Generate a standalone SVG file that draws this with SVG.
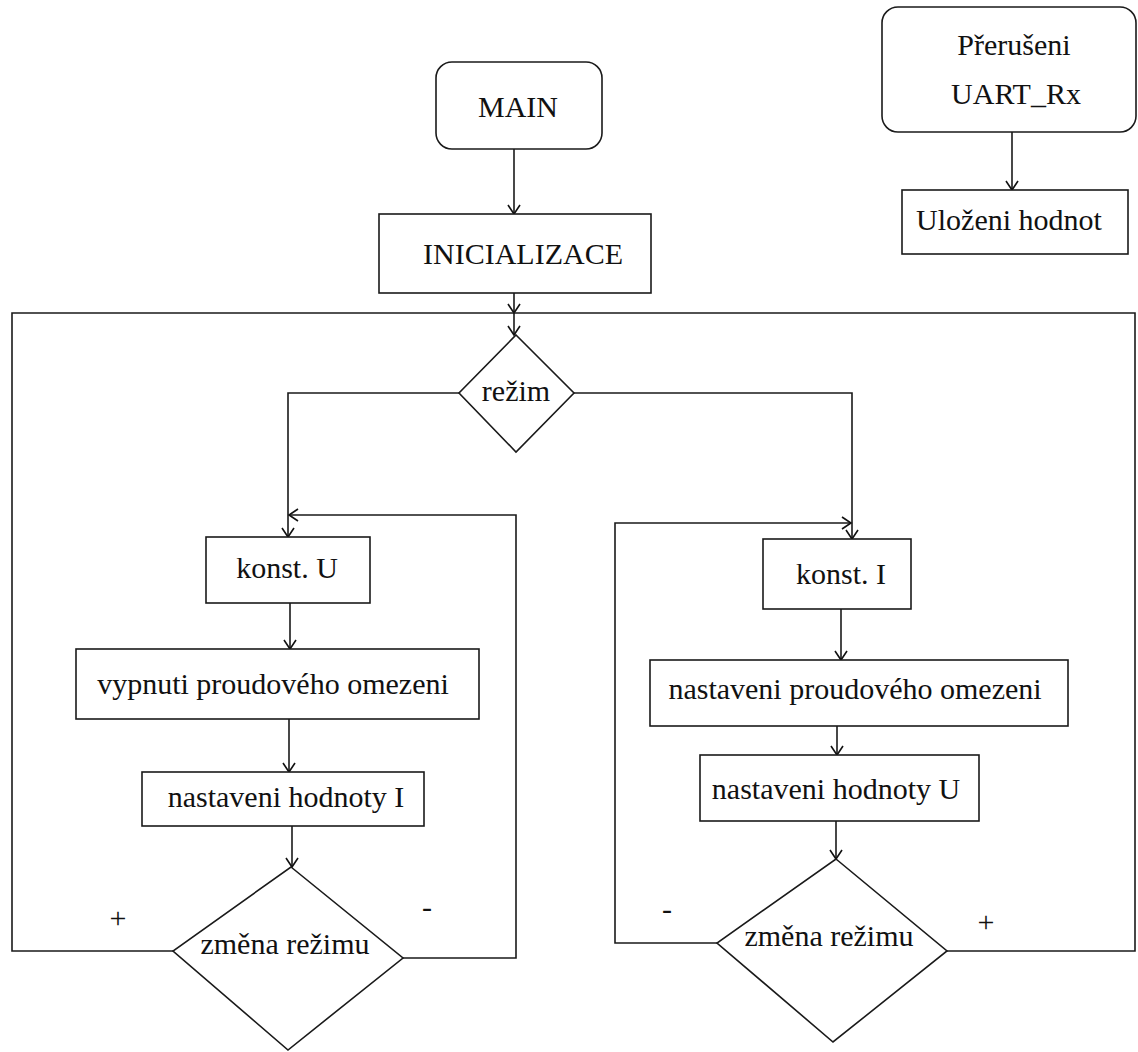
<svg xmlns="http://www.w3.org/2000/svg" width="1138" height="1052" viewBox="0 0 1138 1052">
<defs>
<marker id="arr" markerUnits="userSpaceOnUse" markerWidth="16" markerHeight="16" viewBox="-12 -8 14 16" refX="0" refY="0" orient="auto">
<path d="M-9,-6 L0,0 L-9,6" fill="none" stroke="#111" stroke-width="1.6"/>
</marker>
</defs>
<style>
.n{fill:#fff;stroke:#1a1a1a;stroke-width:1.6}
.c{fill:none;stroke:#1a1a1a;stroke-width:1.6}
.a{marker-end:url(#arr)}
text{font-family:"Liberation Serif","Times New Roman",serif;font-size:30px;fill:#111;text-anchor:middle}
</style>
<rect width="1138" height="1052" fill="#fff"/>
<g id="connectors">
<path class="c a" d="M514,149 V214"/>
<path class="c a" d="M514,293 V313"/>
<path class="c a" d="M514,313 V335"/>
<path class="c" d="M173,951 H12 V313 H514"/>
<path class="c" d="M947,951 H1135 V313 H514"/>
<path class="c a" d="M459,393 H288 V537"/>
<path class="c a" d="M403,958 H516 V515 H289"/>
<path class="c a" d="M574,393 H852 V539"/>
<path class="c a" d="M717,943 H615 V523 H851"/>
<path class="c a" d="M290,603 V649"/>
<path class="c a" d="M289,719 V772"/>
<path class="c a" d="M292,826 V867"/>
<path class="c a" d="M841,609 V660"/>
<path class="c a" d="M837,726 V755"/>
<path class="c a" d="M836,821 V859"/>
<path class="c a" d="M1012,132 V190"/>
</g>
<g id="main"><rect class="n" x="436" y="62" width="166" height="87" rx="16"/><text x="518" y="117">MAIN</text></g>
<g id="init"><rect class="n" x="379" y="214" width="272" height="79"/><text x="523" y="264">INICIALIZACE</text></g>
<g id="rezim"><path class="n" d="M516,335 L574,393 L516,452 L459,393 Z"/><text x="516" y="401">režim</text></g>
<g id="konstU"><rect class="n" x="206" y="537" width="164" height="66"/><text x="287" y="578">konst. U</text></g>
<g id="vypnuti"><rect class="n" x="76" y="649" width="403" height="70"/><text x="273" y="694">vypnuti proudového omezeni</text></g>
<g id="nastI"><rect class="n" x="142" y="772" width="282" height="54"/><text x="286" y="807">nastaveni hodnoty I</text></g>
<g id="zmenaL"><path class="n" d="M291,867 L403,958 L288,1050 L173,951 Z"/><text x="285" y="954">změna režimu</text></g>
<g id="konstI"><rect class="n" x="763" y="539" width="148" height="70"/><text x="841" y="584">konst. I</text></g>
<g id="nastProud"><rect class="n" x="650" y="660" width="418" height="66"/><text x="855" y="699">nastaveni proudového omezeni</text></g>
<g id="nastU"><rect class="n" x="700" y="755" width="279" height="66"/><text x="836" y="799">nastaveni hodnoty U</text></g>
<g id="zmenaR"><path class="n" d="M836,859 L947,951 L833,1042 L717,943 Z"/><text x="829" y="946">změna režimu</text></g>
<g id="preruseni"><rect class="n" x="882" y="7" width="254" height="125" rx="16"/><text x="1014" y="55">Přerušeni</text><text x="1016" y="104">UART_Rx</text></g>
<g id="ulozeni"><rect class="n" x="902" y="190" width="226" height="64"/><text x="1009" y="230">Uloženi hodnot</text></g>
<g id="labels">
<text x="118" y="928">+</text>
<text x="427" y="917">-</text>
<text x="667" y="919">-</text>
<text x="986" y="932">+</text>
</g>
</svg>
